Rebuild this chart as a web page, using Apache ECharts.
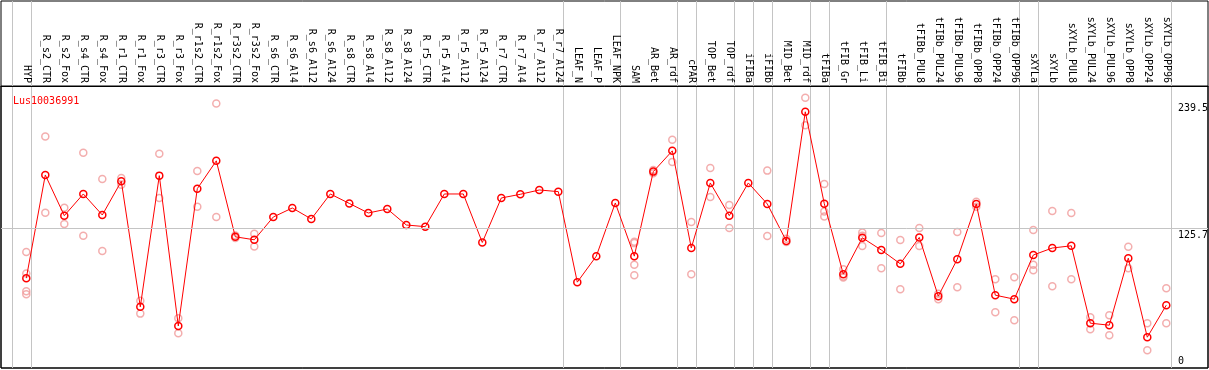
<!DOCTYPE html>
<html>
<head>
<meta charset="utf-8">
<script src="https://cdn.jsdelivr.net/npm/echarts@6/dist/echarts.min.js"></script>
<style>
html,body{margin:0;padding:0;background:#fff;}
#c{width:1209px;height:370px;}
</style>
</head>
<body>
<div id="c"></div>
<script>
const chartTitle = 'Lus10036991';
const categories = ['HYP','R_s2_CTR','R_s2_Fox','R_s4_CTR','R_s4_Fox','R_r1_CTR','R_r1_Fox','R_r3_CTR','R_r3_Fox','R_r1s2_CTR','R_r1s2_Fox','R_r3s2_CTR','R_r3s2_Fox','R_s6_CTR','R_s6_Al4','R_s6_Al12','R_s6_Al24','R_s8_CTR','R_s8_Al4','R_s8_Al12','R_s8_Al24','R_r5_CTR','R_r5_Al4','R_r5_Al12','R_r5_Al24','R_r7_CTR','R_r7_Al4','R_r7_Al12','R_r7_Al24','LEAF_N','LEAF_P','LEAF_NPK','SAM','AR_Bet','AR_rdf','cPAR','TOP_Bet','TOP_rdf','iFIBa','iFIBb','MID_Bet','MID_rdf','tFIBa','tFIB_Gr','tFIB_Li','tFIB_Bi','tFIBb','tFIBb_PUL8','tFIBb_PUL24','tFIBb_PUL96','tFIBb_OPP8','tFIBb_OPP24','tFIBb_OPP96','sXYLa','sXYLb','sXYLb_PUL8','sXYLb_PUL24','sXYLb_PUL96','sXYLb_OPP8','sXYLb_OPP24','sXYLb_OPP96'];
const means = [80.8,173.6,137.0,156.5,137.6,167.9,55.0,173.0,37.8,161.3,186.3,118.0,115.3,135.8,143.9,134.0,156.5,148.0,139.4,143.0,128.6,127.1,156.5,156.5,112.9,152.9,156.2,160.1,158.6,77.2,100.6,148.4,100.6,176.6,195.3,107.9,166.4,137.0,166.4,147.5,114.2,230.4,147.8,84.4,117.1,106.1,93.7,117.4,64.6,97.9,147.5,65.5,61.9,101.6,107.9,109.9,40.3,38.5,98.8,27.7,56.5];
const replicates = [
  [104.3,85.0,69.1,66.4],[208.1,139.7],[144.2,129.5],[193.5,118.9],[170.0,105.2],[170.9,164.9],[60.4,48.9],[192.6,152.9],[44.8,31.3],[177.2,145.1],[237.9,135.8],[119.2,116.9],[120.7,109.3],
  [],[],[],[],[],[],[],[],[],[],[],[],[],[],[],[],
  [],[],[],
  [113.5,112.3,92.8,83.5],[178.1,175.1],[205.2,185.3],[131.3,84.4],[179.9,153.8],[146.6,125.9],[],[177.5,118.7],[116.2,113.3],[243.0,218.3],
  [165.5,140.8,136.3],[88.9,82.3,81.4],[121.9,118.9,109.7],[121.4,89.8],[115.1,70.9],[125.9,109.7],[66.7,61.9],[122.3,72.7],[149.6,145.1],[79.9,50.2],[81.7,43.0],
  [124.1,92.8,88.0],[141.2,73.6],[139.4,79.9],[45.7,34.9],[47.5,29.5],[109.0,89.8],[40.3,15.9],[71.8,40.3]
];
const yTickLabels = [0, 125.7, 239.5];
const referenceLine = 125.7;
// group separators drawn after these category numbers (1-based; 0 = before the first)
const groupEnds = [0,1,29,32,35,36,38,39,40,42,43,46,53,54,61];

// x positions are 1-based category numbers
const meanData = means.map((v,i)=>[i+1,v]);
const repData = [];
replicates.forEach((arr,i)=>arr.forEach(v=>repData.push([i+1,v])));
const sepData = groupEnds.map(g=>[g+0.23]);

const FONT = 'DejaVu Sans Mono';
const X_MIN = -0.3316, X_MAX = 63.195;
const chart = echarts.init(document.getElementById('c'), null, {renderer:'canvas'});
chart.setOption({
  animation:false,
  backgroundColor:'#fff',
  title:{text:chartTitle,left:8,top:91,textStyle:{color:'#ff0000',fontSize:10,fontFamily:FONT,fontWeight:'normal'}},
  grid:[
    {left:1,right:1,top:86,bottom:2,show:true,borderColor:'#000',borderWidth:1,outerBoundsMode:'none',containLabel:false},
    {left:1,right:1,top:1,bottom:2,show:true,borderColor:'#000',borderWidth:1,outerBoundsMode:'none',containLabel:false}
  ],
  xAxis:[
    {
      gridIndex:0, type:'value', min:X_MIN, max:X_MAX, position:'top',
      axisLine:{show:true,onZero:false,lineStyle:{color:'#000',width:1}},
      axisTick:{show:false},
      splitLine:{show:false},
      axisLabel:{show:true,rotate:90,margin:3,fontSize:10,fontFamily:FONT,color:'#000',
        customValues:categories.map((c,i)=>i+1),
        formatter:v=>categories[Math.round(v)-1]||''}
    },
    {gridIndex:1, type:'value', min:X_MIN, max:X_MAX, show:false}
  ],
  yAxis:[
    {gridIndex:0,type:'value',min:0,max:253.6,show:false},
    {gridIndex:1,type:'value',min:0,max:1,show:false}
  ],
  series:[
    {
      type:'custom', xAxisIndex:1, yAxisIndex:1, data:sepData, z:0, silent:true, clip:false,
      encode:{x:0},
      renderItem:(params, api)=>{
        const top = api.coord([api.value(0), 1]);
        const bot = api.coord([api.value(0), 0]);
        const x = Math.round(top[0]) + 0.5;
        return {type:'line', shape:{x1:x, y1:top[1], x2:x, y2:bot[1]}, style:{stroke:'#c4c4c4', lineWidth:1}};
      }
    },
    {
      type:'scatter', xAxisIndex:0, yAxisIndex:0, data:repData, symbol:'circle', symbolSize:7, z:2,
      itemStyle:{color:'rgba(0,0,0,0)',borderColor:'#f09a9a',borderWidth:1.5}
    },
    {
      type:'line', xAxisIndex:0, yAxisIndex:0, data:meanData, symbol:'circle', symbolSize:7, z:4,
      lineStyle:{color:'#ff0000',width:1},
      itemStyle:{color:'rgba(0,0,0,0)',borderColor:'#ff0000',borderWidth:1.5},
      markLine:{
        silent:true, symbol:'none', animation:false,
        data:yTickLabels.map(v=>({
          yAxis:v,
          lineStyle:{color:v===referenceLine?'#c4c4c4':'rgba(255,255,255,0)',width:1,type:'solid'},
          label:{show:true,position:v===0?'insideEndTop':'insideEndBottom',distance:[30,2],align:'left',
            formatter:String(v),color:'#000',fontSize:10,fontFamily:FONT}
        }))
      }
    }
  ]
});
</script>
</body>
</html>
